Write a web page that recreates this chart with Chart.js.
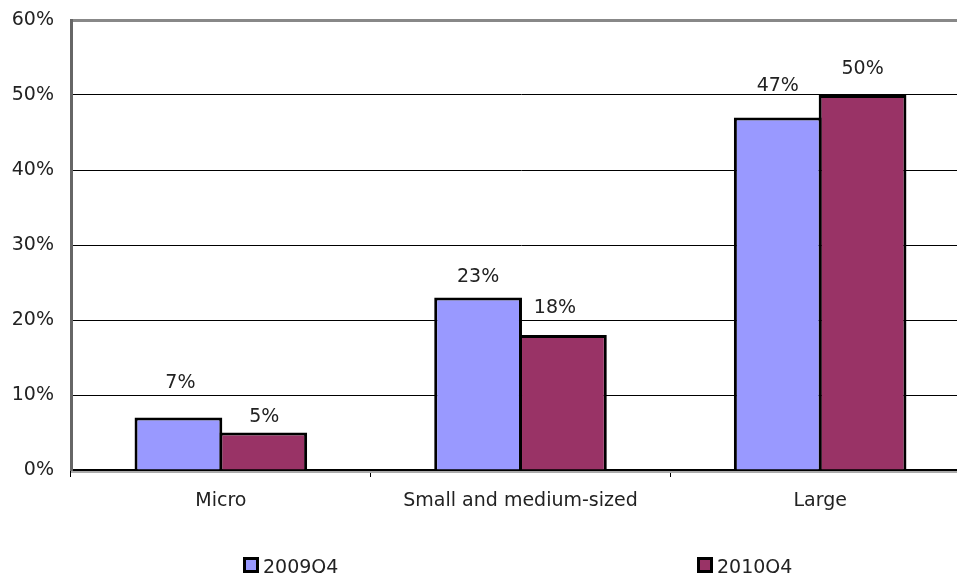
<!DOCTYPE html>
<html>
<head>
<meta charset="utf-8">
<script src="https://cdn.jsdelivr.net/npm/chart.js@4.4.1/dist/chart.umd.min.js"></script>
<style>
  html, body { margin: 0; padding: 0; background: #fff; overflow: hidden; }
  /* plot runs slightly past the right edge of the window */
  #wrap { width: 970px; height: 573px; position: relative; }
</style>
</head>
<body>
<div id="wrap"><canvas id="sizes"></canvas></div>
<script>
const categories = ['Micro', 'Small and medium-sized', 'Large'];
const series = ['2009Q4', '2010Q4'];
const values2009 = [7, 23, 47];
const values2010 = [5, 18, 50];
const yTicks = [0, 10, 20, 30, 40, 50, 60];

const FONT = '"DejaVu Sans", Verdana, sans-serif';
const TEXT = '#222';
const SIZE = 19;

// percent labels above each bar; lift is how far the label centre sits above the bar top
const barLabels = {
    id: 'barLabels',
    afterDatasetsDraw(chart, args, opts) {
        const ctx = chart.ctx;
        ctx.save();
        ctx.font = SIZE + 'px ' + FONT;
        ctx.fillStyle = TEXT;
        ctx.textAlign = 'center';
        ctx.textBaseline = 'middle';
        chart.data.datasets.forEach((ds, i) => {
            chart.getDatasetMeta(i).data.forEach((bar, j) => {
                const lift = opts.lift[i][j];
                const dx = opts.shift[i][j];
                ctx.fillText(ds.data[j] + '%', bar.x + dx, bar.y - lift);
            });
        });
        ctx.restore();
    }
};

// legend spread out along the bottom edge, plus the grey shadow under the x axis
const spreadLegend = {
    id: 'spreadLegend',
    afterDraw(chart) {
        const ctx = chart.ctx;
        const area = chart.chartArea;
        ctx.save();
        ctx.fillStyle = '#aaa';
        ctx.fillRect(area.left, area.bottom + 1, area.right - area.left, 2);

        const xs = [243, 697];
        ctx.font = SIZE + 'px ' + FONT;
        ctx.textBaseline = 'alphabetic';
        chart.data.datasets.forEach((ds, i) => {
            const x = xs[i];
            ctx.fillStyle = '#000';
            ctx.fillRect(x, 557, 16, 16);
            ctx.fillStyle = ds.backgroundColor;
            ctx.fillRect(x + 3, 560, 10, 10);
            ctx.fillStyle = TEXT;
            ctx.fillText(ds.label, x + 20, 573);
        });
        ctx.restore();
    }
};

new Chart(document.getElementById('sizes'), {
    type: 'bar',
    data: {
        labels: categories,
        datasets: [{
            label: series[0],
            data: values2009,
            backgroundColor: '#9999FF',
            borderColor: '#000',
            borderWidth: 3,
            borderSkipped: 'bottom'
        }, {
            label: series[1],
            data: values2010,
            backgroundColor: '#993366',
            borderColor: '#000',
            borderWidth: 3,
            borderSkipped: 'bottom'
        }]
    },
    options: {
        responsive: true,
        maintainAspectRatio: false,
        animation: false,
        layout: { padding: { top: 20, right: 0, bottom: 0, left: 0 } },
        datasets: { bar: { categoryPercentage: 0.566, barPercentage: 1.035 } },
        plugins: {
            legend: { display: false },
            tooltip: { enabled: false },
            barLabels: {
                lift: [[34, 20, 31], [15, 27, 26]],
                shift: [[2, 0, 0], [1, -8, 0]]
            }
        },
        scales: {
            x: {
                afterFit: s => { s.height = 103; s.paddingLeft = 0; s.paddingRight = 0; },
                grid: {
                    offset: true,
                    drawOnChartArea: false,
                    drawTicks: true,
                    tickLength: 7,
                    color: '#000'
                },
                border: { color: '#000', width: 2 },
                ticks: {
                    color: TEXT,
                    font: { family: FONT, size: SIZE },
                    padding: 13
                }
            },
            y: {
                min: 0,
                max: 60,
                // fixed gutter; tick labels may hang over the top edge
                afterFit: s => { s.width = 71; s.paddingTop = 0; s.paddingBottom = 0; },
                afterBuildTicks: s => { s.ticks = yTicks.map(v => ({ value: v })); },
                grid: {
                    color: c => c.tick && c.tick.value === 60 ? '#888' : '#000',
                    lineWidth: c => c.tick && c.tick.value === 60 ? 3 : 1,
                    drawTicks: false
                },
                border: { color: '#666', width: 3 },
                ticks: {
                    color: TEXT,
                    font: { family: FONT, size: SIZE },
                    padding: 17,
                    callback: v => v + '%'
                }
            }
        }
    },
    plugins: [barLabels, spreadLegend]
});
</script>
</body>
</html>
